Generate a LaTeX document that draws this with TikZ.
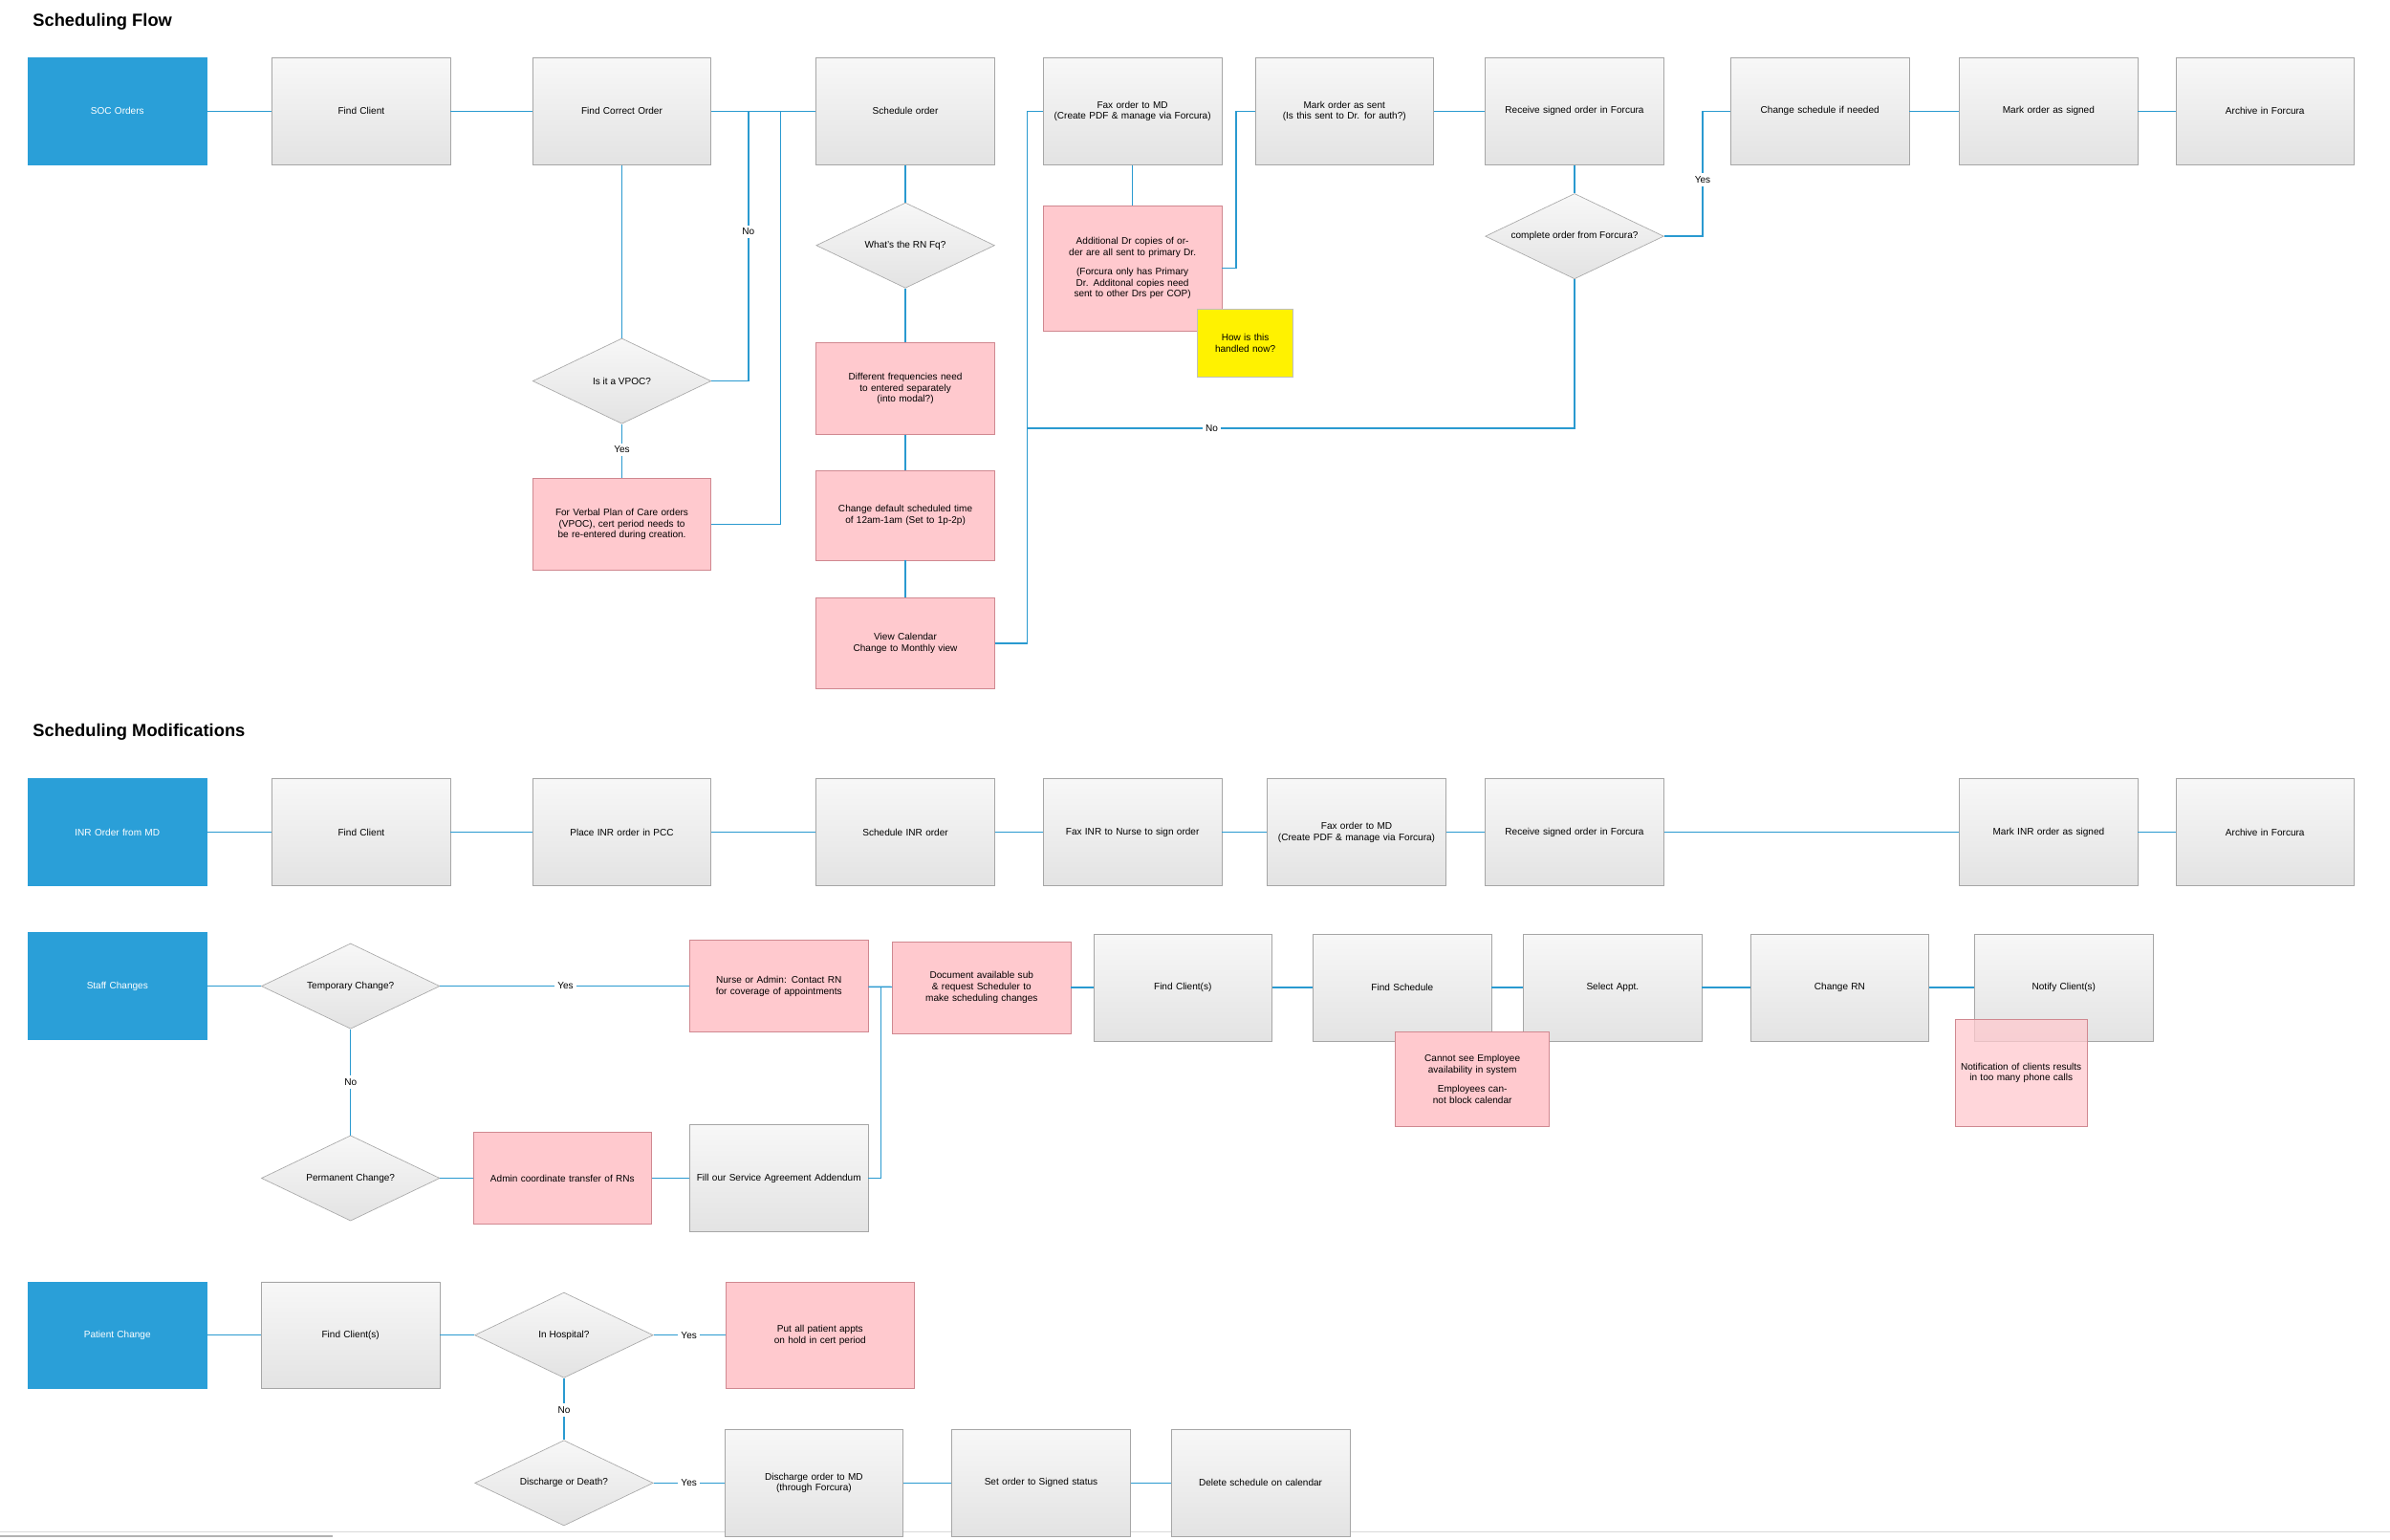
\documentclass[tikz,border=0pt]{standalone}
\usepackage{fontspec}
\setmainfont{Liberation Sans}
\usetikzlibrary{shapes.geometric}
\definecolor{blu}{HTML}{2A9FD8}
\definecolor{pnk}{HTML}{FFC9CE}
\definecolor{pbd}{HTML}{D08890}
\definecolor{ln}{HTML}{2A9AD0}
\begin{document}
\begin{tikzpicture}[x=1pt,y=-1pt,
 every node/.style={font=\fontsize{6.3}{7.4}\selectfont,align=center},
 box/.style={rectangle,draw=gray!70,top color=gray!6,bottom color=gray!22,minimum width=117pt,minimum height=70pt,text width=110pt,inner sep=1pt},
 blue/.style={rectangle,fill=blu,draw=blu,text=white,minimum width=117pt,minimum height=70pt,text width=110pt},
 pink/.style={rectangle,fill=pnk,draw=pbd,minimum width=117pt,minimum height=60pt,text width=110pt,inner sep=1pt},
 dia/.style={diamond,draw=gray!70,top color=gray!6,bottom color=gray!22,minimum width=117pt,minimum height=56pt,inner sep=0pt,aspect=2},
 lab/.style={fill=white,inner sep=2pt},
 head/.style={font=\fontsize{11.5}{13}\selectfont\bfseries,anchor=west},
 c/.style={draw=ln,line width=0.9pt}]
\useasboundingbox (0,0) rectangle (1568,1010);
\fill[white] (0,0) rectangle (1568,1010);
\draw[gray!30,line width=1pt] (0,1005) -- (1568,1005);
\draw[gray!60,line width=1pt] (0,1008) -- (218,1008);
\node[head] (h1) at (18,14) {Scheduling Flow};
\node[head] (h2) at (18,480) {Scheduling Modifications};
% Row 1
\node[blue] (soc) at (77,73) {SOC Orders};
\node[box] (fc) at (237,73) {Find Client};
\node[box] (fco) at (408,73) {Find Correct Order};
\node[box] (so) at (594,73) {Schedule order};
\node[box] (fax) at (743,73) {Fax order to MD\\(Create PDF \& manage via Forcura)};
\node[box] (ms) at (882,73) {Mark order as sent\\(Is this sent to Dr. for auth?)};
\node[box] (rs) at (1033,73) {Receive signed order in Forcura};
\node[box] (cs) at (1194,73) {Change schedule if needed};
\node[box] (mos) at (1344,73) {Mark order as signed};
\node[box] (ar) at (1486,73) {Archive in Forcura};
\node[dia] (rnf) at (594,161) {What's the RN Fq?};
\node[pink] (df) at (594,255) {Different frequencies need to entered separately\\(into modal?)};
\node[pink,minimum height=59pt] (cd) at (594,338) {Change default scheduled time of 12am-1am (Set to 1p-2p)};
\node[pink] (vc) at (594,422) {View Calendar\\Change to Monthly view};
\node[pink,minimum height=82pt] (ad) at (743,176) {Additional Dr copies of order are all sent to primary Dr.\\[5pt](Forcura only has Primary Dr. Additonal copies need sent to other Drs per COP)};
\node[dia] (co) at (1033,155) {complete order from Forcura?};
\node[dia] (vp) at (408,250) {Is it a VPOC?};
\node[pink] (vpp) at (408,344) {For Verbal Plan of Care orders (VPOC), cert period needs to be re-entered during creation.};
\draw[c] (soc)--(fc); \draw[c] (fc)--(fco); \draw[c] (fco)--(so);
\draw[c] (fco)--(vp);
\draw[c] (vp.east) -- (491,250) -- (491,73);
\node[lab] (no1) at (491,152) {No};
\draw[c] (vp)--(vpp); \node[lab] (y1) at (408,295) {Yes};
\draw[c] (vpp.east) -- (512,344) -- (512,73);
\draw[c] (so)--(rnf); \draw[c] (rnf)--(df); \draw[c] (df)--(cd); \draw[c] (cd)--(vc);
\draw[c] (vc.east) -- (674,422) -- (674,73) -- (fax.west);
\draw[c] (674,281) -- (1033,281) -- (co.south);
\node[lab] (no2) at (795,281) {No};
\draw[c] (fax)--(ad);
\draw[c] (ad.east) -- (811,176) -- (811,73) -- (ms.west);
\draw[c] (ms)--(rs); \draw[c] (rs)--(co);
\draw[c] (co.east) -- (1117,155) -- (1117,73) -- (cs.west);
\node[lab] (y2) at (1117,118) {Yes};
\draw[c] (cs)--(mos); \draw[c] (mos)--(ar);
\node[rectangle,fill=yellow,draw=gray!50,minimum width=60pt,minimum height=45pt,text width=56pt] (yl) at (817,225) {How is this handled now?};
% Row 2
\node[blue] (inr) at (77,546) {INR Order from MD};
\node[box] (fc2) at (237,546) {Find Client};
\node[box] (pi) at (408,546) {Place INR order in PCC};
\node[box] (si) at (594,546) {Schedule INR order};
\node[box] (fn) at (743,546) {Fax INR to Nurse to sign order};
\node[box] (fm) at (890,546) {Fax order to MD\\(Create PDF \& manage via Forcura)};
\node[box] (rs2) at (1033,546) {Receive signed order in Forcura};
\node[box] (mi) at (1344,546) {Mark INR order as signed};
\node[box] (ar2) at (1486,546) {Archive in Forcura};
\draw[c] (inr)--(fc2); \draw[c] (fc2)--(pi); \draw[c] (pi)--(si); \draw[c] (si)--(fn);
\draw[c] (fn)--(fm); \draw[c] (fm)--(rs2); \draw[c] (rs2)--(mi); \draw[c] (mi)--(ar2);
% Staff
\node[blue] (st) at (77,647) {Staff Changes};
\node[dia] (tc) at (230,647) {Temporary Change?};
\node[pink] (na) at (511,647) {Nurse or Admin: Contact RN for coverage of appointments};
\node[pink] (doc) at (644,648) {Document available sub \& request Scheduler to make scheduling changes};
\node[box] (fcs) at (776,648) {Find Client(s)};
\node[box] (fs) at (920,648) {Find Schedule};
\node[box] (sa) at (1058,648) {Select Appt.};
\node[box] (cr) at (1207,648) {Change RN};
\node[box] (nc) at (1354,648) {Notify Client(s)};
\node[pink,minimum width=101pt,minimum height=62pt,text width=95pt] (cse) at (966,708) {Cannot see Employee availability in system\\[5pt]Employees cannot block calendar};
\node[rectangle,fill=pnk,fill opacity=0.75,draw=pbd,text opacity=1,minimum width=86pt,minimum height=70pt,text width=80pt] (ntf) at (1326,704) {Notification of clients results in too many phone calls};
\node[dia] (pc) at (230,773) {Permanent Change?};
\node[pink] (acn) at (369,773) {Admin coordinate transfer of RNs};
\node[box] (fo) at (511,773) {Fill our Service Agreement Addendum};
\draw[c] (st)--(tc); \draw[c] (tc)--(na); \node[lab] (y3) at (371,647) {Yes};
\draw[c] (na)--(doc); \draw[c] (doc)--(fcs); \draw[c] (fcs)--(fs); \draw[c] (fs)--(sa); \draw[c] (sa)--(cr); \draw[c] (cr)--(nc);
\draw[c] (tc)--(pc); \node[lab] (no3) at (230,710) {No};
\draw[c] (pc)--(acn); \draw[c] (acn)--(fo);
\draw[c] (fo.east) -- (578,773) -- (578,647);
% Patient
\node[blue] (pt) at (77,876) {Patient Change};
\node[box] (fcp) at (230,876) {Find Client(s)};
\node[dia] (ih) at (370,876) {In Hospital?};
\node[pink,minimum width=124pt,minimum height=70pt,text width=118pt] (pa) at (538,876) {Put all patient appts on hold in cert period};
\node[dia] (dd) at (370,973) {Discharge or Death?};
\node[box] (dom) at (534,973) {Discharge order to MD\\(through Forcura)};
\node[box] (sos) at (683,973) {Set order to Signed status};
\node[box] (dsc) at (827,973) {Delete schedule on calendar};
\draw[c] (pt)--(fcp); \draw[c] (fcp)--(ih); \draw[c] (ih)--(pa); \node[lab] (y4) at (452,876) {Yes};
\draw[c] (ih)--(dd); \node[lab] (no4) at (370,925) {No};
\draw[c] (dd)--(dom); \node[lab] (y5) at (452,973) {Yes};
\draw[c] (dom)--(sos); \draw[c] (sos)--(dsc);
\end{tikzpicture}
\end{document}
